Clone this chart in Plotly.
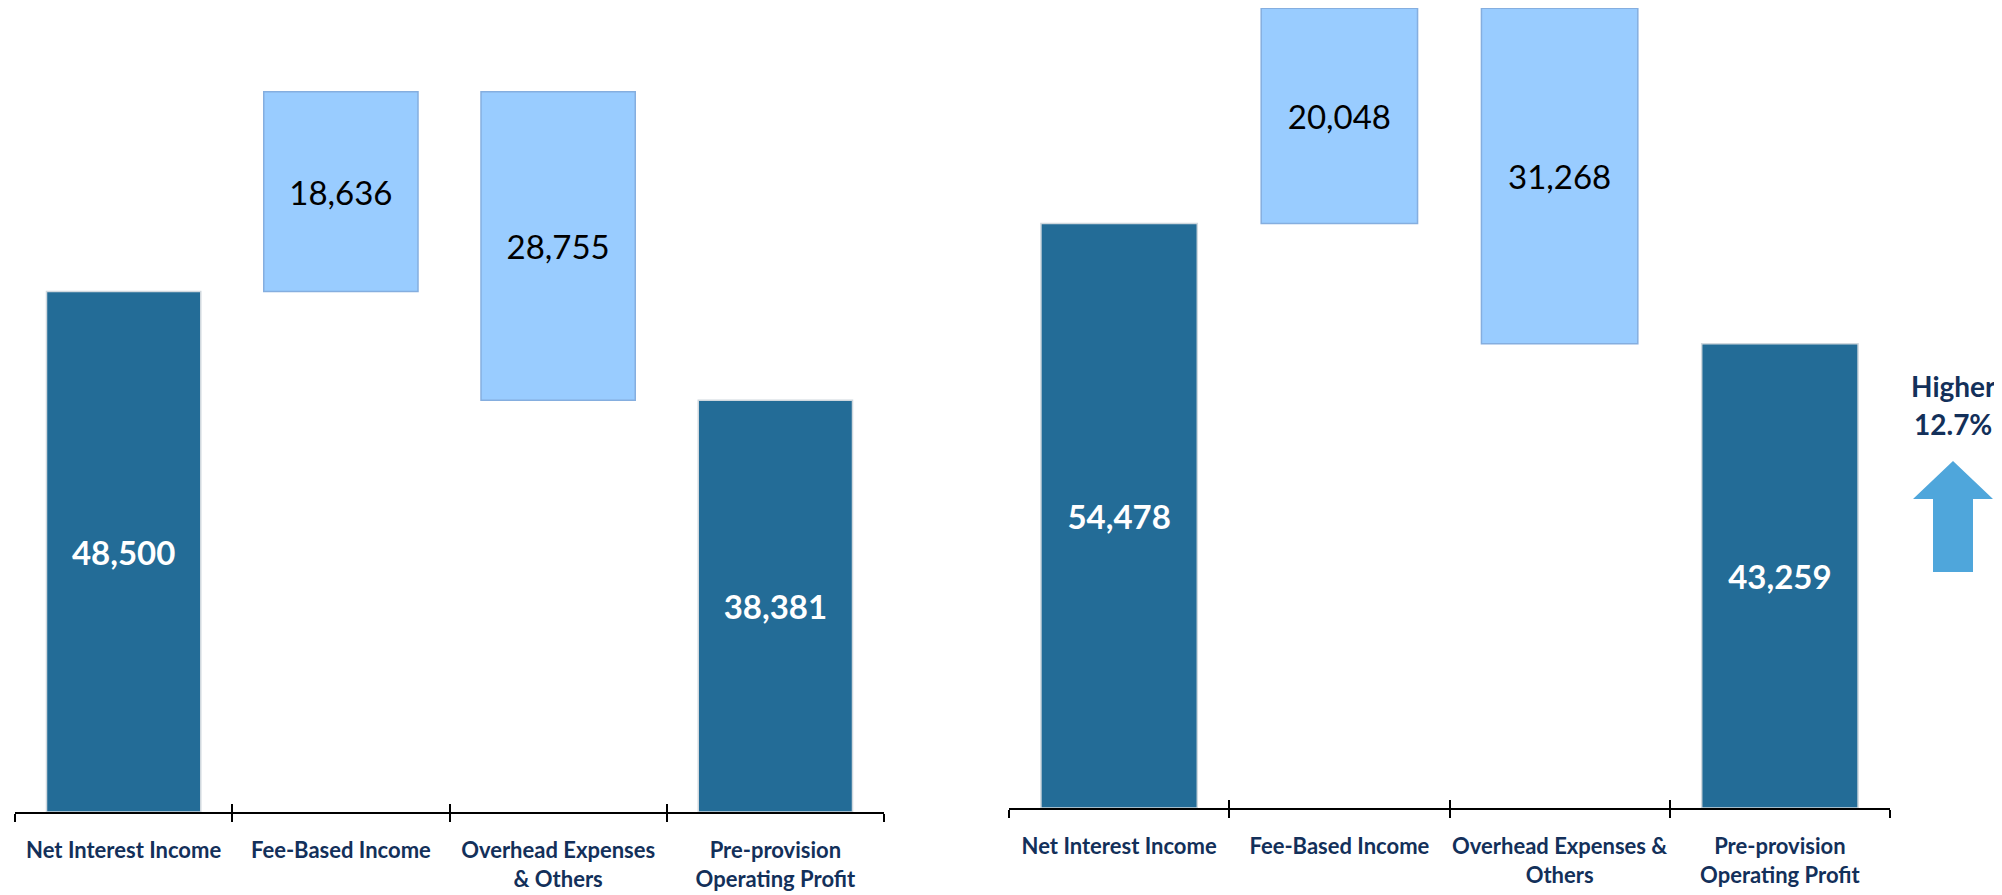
import plotly.graph_objects as go

categories = ["Net Interest Income", "Fee-Based Income", "Overhead Expenses & Others", "Pre-provision Operating Profit"]
left_ticktext = ["Net Interest Income", "Fee-Based Income", "Overhead Expenses<br>& Others", "Pre-provision<br>Operating Profit"]
right_ticktext = ["Net Interest Income", "Fee-Based Income", "Overhead Expenses &<br>Others", "Pre-provision<br>Operating Profit"]

left_nii, left_fee, left_ovh, left_ppop = 48500, 18636, 28755, 38381
right_nii, right_fee, right_ovh, right_ppop = 54478, 20048, 31268, 43259
growth_text = ["Higher", "12.7%"]

DARK = "#236C97"
LIGHT = "#99CCFF"
NAVY = "#13305A"
FONT = "Lato, 'Open Sans', sans-serif"
W, H = 2002, 895
OFF = 8  # page body margin
PX_PER_UNIT = 0.01073


def waterfall(nii, fee, ovh, ppop):
    vals = [nii, fee, ovh, ppop]
    bases = [0, nii, nii + fee - ovh, 0]
    return vals, bases


fig = go.Figure()

for idx, (nii, fee, ovh, ppop) in enumerate([(left_nii, left_fee, left_ovh, left_ppop),
                                               (right_nii, right_fee, right_ovh, right_ppop)]):
    vals, bases = waterfall(nii, fee, ovh, ppop)
    xa = "x" if idx == 0 else "x2"
    ya = "y" if idx == 0 else "y2"
    fig.add_trace(go.Bar(
        x=categories, y=vals, base=bases, xaxis=xa, yaxis=ya, width=0.71,
        marker=dict(color=[DARK, LIGHT, LIGHT, DARK],
                    line=dict(color=["#D0D8DE", "#85AEDF", "#85AEDF", "#D0D8DE"], width=1.5)),
        text=[f"{v:,}" for v in vals],
        textposition="inside", insidetextanchor="middle", textangle=0,
        constraintext="none",
        textfont=dict(family=FONT, size=[33, 33, 33, 33],
                      color=["white", "black", "black", "white"],
                      weight=[700, 400, 400, 700]),
        hoverinfo="skip", showlegend=False,
    ))

# geometry (pixels, target screen coords) of the two panels
left_x = (15 - OFF, 884 - OFF)
right_x = (1009 - OFF, 1890 - OFF)
left_axis_y = 812 - OFF
right_axis_y = 808 - OFF


def xdom(px):
    return [px[0] / W, px[1] / W]


common_x = dict(type="category", categoryorder="array", categoryarray=categories,
                range=[-0.5, 3.5], showline=True, linecolor="black", linewidth=2,
                ticks="outside", ticklen=8, tickwidth=2, tickcolor="black",
                tickson="boundaries", showgrid=False, zeroline=False, tickangle=0,
                tickfont=dict(family=FONT, size=22, color=NAVY, weight=700),
                ticklabelstandoff=18, automargin=False, fixedrange=True)

overlay_x = dict(type="linear", range=[-0.5, 3.5], tickvals=[-0.5, 0.5, 1.5, 2.5, 3.5],
                 ticks="inside", ticklen=8, tickwidth=2, tickcolor="black",
                 showticklabels=False, showgrid=False, zeroline=False, showline=False)

fig.update_layout(
    width=W, height=H,
    margin=dict(l=0, r=0, t=0, b=0),
    paper_bgcolor="white", plot_bgcolor="white",
    xaxis=dict(domain=xdom(left_x), anchor="y", tickvals=categories, ticktext=left_ticktext, **common_x),
    xaxis2=dict(domain=xdom(right_x), anchor="y2", tickvals=categories, ticktext=right_ticktext, **common_x),
    xaxis3=dict(domain=xdom(left_x), anchor="y", overlaying="x", **overlay_x),
    xaxis4=dict(domain=xdom(right_x), anchor="y2", overlaying="x2", **overlay_x),
    yaxis=dict(domain=[(H - left_axis_y) / H, 1], range=[0, left_axis_y / PX_PER_UNIT],
               visible=False, fixedrange=True),
    yaxis2=dict(domain=[(H - right_axis_y) / H, 1], range=[0, right_axis_y / PX_PER_UNIT],
                visible=False, fixedrange=True),
)

# invisible traces so overlay tick axes render
fig.add_trace(go.Scatter(x=[-0.5, 3.5], y=[0, 0], xaxis="x3", yaxis="y", mode="markers",
                         marker=dict(opacity=0), hoverinfo="skip", showlegend=False))
fig.add_trace(go.Scatter(x=[-0.5, 3.5], y=[0, 0], xaxis="x4", yaxis="y2", mode="markers",
                         marker=dict(opacity=0), hoverinfo="skip", showlegend=False))

# growth note + block arrow
cx = 1953 - OFF
fig.add_annotation(x=cx / W, y=1 - (386 - OFF) / H, xref="paper", yref="paper", text=f"<b>{growth_text[0]}</b>",
                   showarrow=False, xanchor="center", yanchor="middle",
                   font=dict(family=FONT, size=28, color=NAVY))
fig.add_annotation(x=cx / W, y=1 - (424 - OFF) / H, xref="paper", yref="paper", text=f"<b>{growth_text[1]}</b>",
                   showarrow=False, xanchor="center", yanchor="middle",
                   font=dict(family=FONT, size=28, color=NAVY))


def P(px, py):
    return f"{(px - OFF) / W:.5f},{1 - (py - OFF) / H:.5f}"


path = ("M " + P(1953, 461) + " L " + P(1993, 499) + " L " + P(1973, 499) + " L " + P(1973, 572)
        + " L " + P(1933, 572) + " L " + P(1933, 499) + " L " + P(1913, 499) + " Z")
fig.add_shape(type="path", path=path, xref="paper", yref="paper",
              fillcolor="#4FA6DB", line=dict(width=0))

fig.write_html("out.html")
